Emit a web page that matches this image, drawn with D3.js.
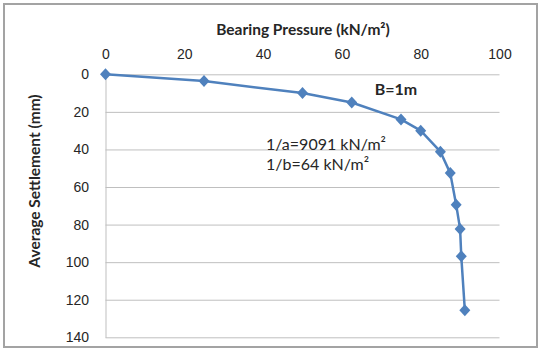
<!DOCTYPE html>
<html>
<head>
<meta charset="utf-8">
<script src="https://cdn.jsdelivr.net/npm/d3@7"></script>
<style>
  body { margin: 0; background: #fff; }
  svg { display: block; font-family: Lato, "Open Sans", sans-serif; }
</style>
</head>
<body>
<div id="chart"></div>
<script>
// plate load test, B = 1m
const pressure = [0, 25, 50, 62.5, 75, 80, 85, 87.5, 89, 90, 90.3, 91.2];
const settlement = [0, 3.6, 10, 15, 24, 30, 41.2, 52.6, 69.4, 82.3, 96.9, 125.6];
const xTicks = [0, 20, 40, 60, 80, 100];
const yTicks = [0, 20, 40, 60, 80, 100, 120, 140];
const notes = ["1/a=9091 kN/m\u00b2", "1/b=64 kN/m\u00b2"];

const W = 540, H = 353;
const margin = { top: 74.3, right: 40.5, bottom: 15.7, left: 105.5 },
  width = W - margin.left - margin.right,
  height = H - margin.top - margin.bottom;

const svg = d3.select("#chart").append("svg")
  .attr("width", W)
  .attr("height", H);

svg.append("rect")
  .attr("x", 4).attr("y", 4)
  .attr("width", 533).attr("height", 343)
  .attr("fill", "#fff")
  .attr("stroke", "#a3a3a3")
  .attr("stroke-width", 2);

const g = svg.append("g").attr("transform", `translate(${margin.left},${margin.top})`);

const x = d3.scaleLinear().domain([0, 100]).range([0, width]);
const y = d3.scaleLinear().domain([0, 140]).range([0, height]);

// y axis + horizontal gridlines
const yAxis = g.append("g")
  .call(d3.axisLeft(y).tickValues(yTicks).tickSizeInner(-width).tickSizeOuter(0).tickPadding(16.5));
yAxis.selectAll("line").attr("stroke", "#bfbfbf");
yAxis.select(".domain").attr("stroke", "#bfbfbf");
yAxis.selectAll("text")
  .attr("x", -16.5)
  .attr("fill", "#262626")
  .style("font-size", "14px");

// x axis on top
const xAxis = g.append("g")
  .call(d3.axisTop(x).tickValues(xTicks).tickSize(0).tickPadding(15.8));
xAxis.select(".domain").remove();
xAxis.selectAll("text")
  .attr("fill", "#262626")
  .style("font-size", "14px");

// titles
svg.append("text")
  .attr("x", 303).attr("y", 35)
  .attr("text-anchor", "middle")
  .style("font-size", "15.5px").style("font-weight", "bold")
  .attr("fill", "#262626")
  .text("Bearing Pressure (kN/m\u00b2)");

svg.append("text")
  .attr("transform", "translate(40,181) rotate(-90)")
  .attr("text-anchor", "middle")
  .style("font-size", "15.5px").style("font-weight", "bold")
  .attr("fill", "#262626")
  .text("Average Settlement (mm)");

// curve
const pts = pressure.map((p, i) => [p, settlement[i]]);
g.append("path")
  .datum(pts)
  .attr("fill", "none")
  .attr("stroke", "#4f81bd")
  .attr("stroke-width", 2.5)
  .attr("stroke-linejoin", "round")
  .attr("d", d3.line().x(d => x(d[0])).y(d => y(d[1])));

g.selectAll(".pt")
  .data(pts)
  .enter()
  .append("path")
  .attr("class", "pt")
  .attr("transform", d => `translate(${x(d[0])},${y(d[1])})`)
  .attr("d", "M0,-6L5.5,0L0,6L-5.5,0Z")
  .attr("fill", "#4f81bd");

// annotations
svg.append("text")
  .attr("x", 396).attr("y", 95)
  .attr("text-anchor", "middle")
  .style("font-size", "16px").style("font-weight", "bold")
  .attr("fill", "#262626")
  .text("B=1m");

svg.selectAll(".note")
  .data(notes)
  .enter()
  .append("text")
  .attr("class", "note")
  .attr("x", 266)
  .attr("y", (d, i) => 150 + i * 20)
  .style("font-size", "16px")
  .attr("fill", "#262626")
  .text(d => d);
</script>
</body>
</html>
